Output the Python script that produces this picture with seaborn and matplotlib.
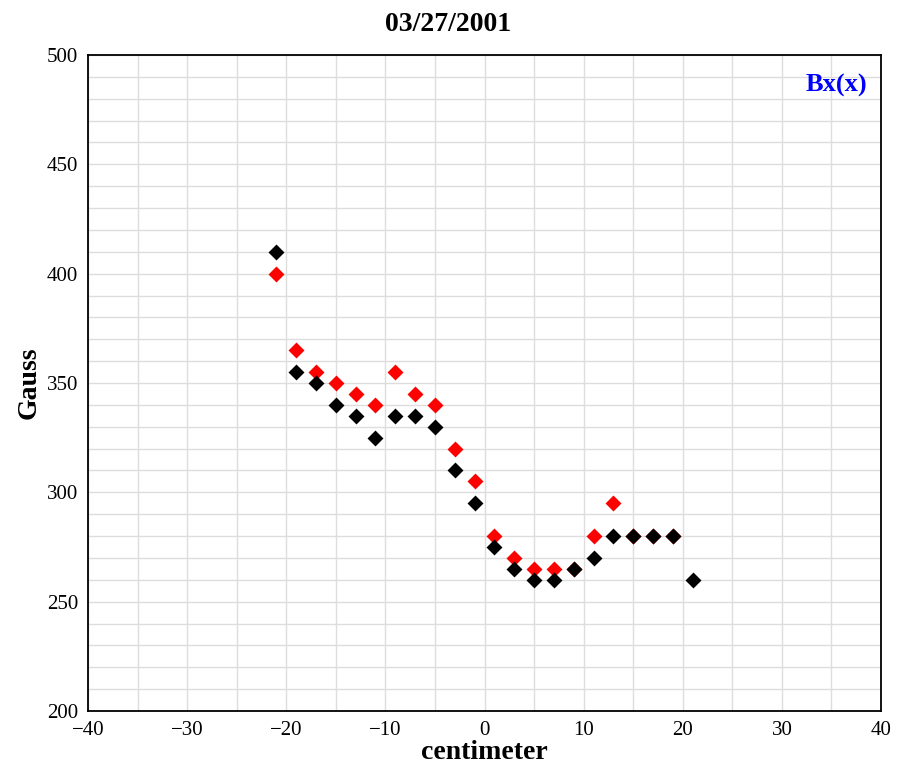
import matplotlib
matplotlib.use("Agg")
import matplotlib.pyplot as plt
import seaborn as sns
import pandas as pd
from matplotlib.ticker import MultipleLocator

sns.set_theme(style="white")
plt.rcParams['font.family'] = ['Liberation Serif', 'DejaVu Serif']
plt.rcParams['text.color'] = 'black'
plt.rcParams['axes.labelcolor'] = 'black'

black_x = [-21, -19, -17, -15, -13, -11, -9, -7, -5, -3, -1, 1, 3, 5, 7, 9, 11, 13, 15, 17, 19, 21]
black_y = [410, 355, 350, 340, 335, 325, 335, 335, 330, 310, 295, 275, 265, 260, 260, 265, 270, 280, 280, 280, 280, 260]
red_x = [-21, -19, -17, -15, -13, -11, -9, -7, -5, -3, -1, 1, 3, 5, 7, 9, 11, 13, 15, 17, 19]
red_y = [400, 365, 355, 350, 345, 340, 355, 345, 340, 320, 305, 280, 270, 265, 265, 265, 280, 295, 280, 280, 280]

red = pd.DataFrame({"x": red_x, "y": red_y})
blk = pd.DataFrame({"x": black_x, "y": black_y})

fig = plt.figure(figsize=(8.97, 7.72), dpi=100)
ax = fig.add_axes([0.0981, 0.0790, 0.8841, 0.8498])

sns.scatterplot(data=red, x="x", y="y", ax=ax, color="#ff0000", marker="D", s=66, linewidth=0, zorder=3)
sns.scatterplot(data=blk, x="x", y="y", ax=ax, color="#000000", marker="D", s=66, linewidth=0, zorder=4)

ax.set_xlim(-40, 40)
ax.set_ylim(200, 500)
ax.xaxis.set_major_locator(MultipleLocator(10))
ax.xaxis.set_minor_locator(MultipleLocator(5))
ax.yaxis.set_major_locator(MultipleLocator(50))
ax.yaxis.set_minor_locator(MultipleLocator(10))
ax.grid(True, which="both", color="#dddddd", linewidth=1.0, zorder=0)
ax.set_axisbelow(True)
for sp in ax.spines.values():
    sp.set_color("black")
    sp.set_linewidth(1.3)
ax.tick_params(axis="both", which="both", length=0, labelsize=15, colors="black")
ax.tick_params(axis="y", pad=7)
ax.tick_params(axis="x", pad=7)

ax.set_xlabel("centimeter", fontsize=20, fontweight="bold", labelpad=0)
ax.set_ylabel("Gauss", fontsize=20, fontweight="bold", labelpad=4)
fig.suptitle("03/27/2001", fontsize=20, fontweight="bold", y=0.985, color="black")
ax.text(0.983, 0.953, "Bx(x)", transform=ax.transAxes, ha="right", va="center",
        fontsize=19, fontweight="bold", color="#0000ff")

fig.savefig("out.png", dpi=100)
